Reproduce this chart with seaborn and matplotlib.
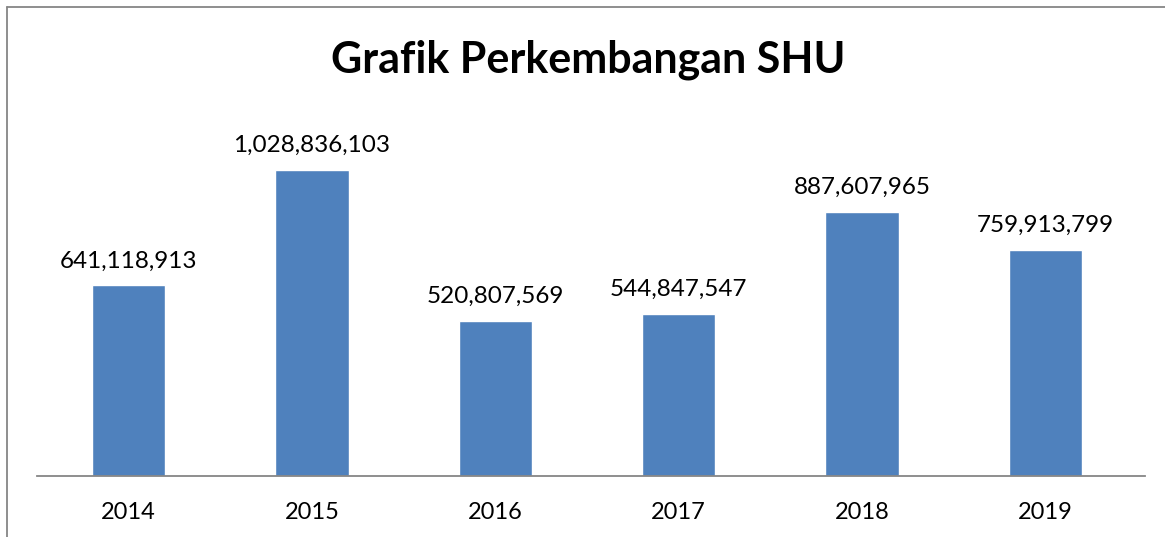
import pandas as pd
import seaborn as sns
import matplotlib.pyplot as plt
from matplotlib.lines import Line2D

years = ["2014", "2015", "2016", "2017", "2018", "2019"]
shu = [641118913, 1028836103, 520807569, 544847547, 887607965, 759913799]

df = pd.DataFrame({"Tahun": years, "SHU": shu})

sns.set_theme(style="white")
plt.rcParams['font.family'] = ['Lato', 'DejaVu Sans']

fig = plt.figure(figsize=(11.65, 5.37), dpi=100)
ax = fig.add_axes([0.0315, 0.1136, 0.951, 0.6644])

sns.barplot(data=df, x="Tahun", y="SHU", color="#4F81BD", saturation=1,
            width=0.4, ax=ax)

ax.bar_label(ax.containers[0], labels=[f"{v:,}" for v in shu],
             padding=10, fontsize=17.5, color="black")

ax.set_ylim(0, 1.2e9)
ax.set_xlim(-0.5, 5.54)
ax.set_yticks([])
ax.set_xlabel("")
ax.set_ylabel("")
for s in ["top", "right", "left"]:
    ax.spines[s].set_visible(False)
ax.spines["bottom"].set_color("#868686")
ax.spines["bottom"].set_linewidth(1.3)
ax.tick_params(axis="x", length=0, pad=19, labelsize=17, labelcolor="black")

fig.text(0.505, 1 - 60 / 537, "Grafik Perkembangan SHU", ha="center", va="center",
         fontsize=31, fontweight="bold", color="black")

# chart area border (top and left visible in the crop)
fig.add_artist(Line2D([7 / 1165, 7 / 1165], [0, 1 - 7 / 537], color="#868686", lw=1.3,
                      transform=fig.transFigure))
fig.add_artist(Line2D([7 / 1165, 1], [1 - 7 / 537, 1 - 7 / 537], color="#868686", lw=1.3,
                      transform=fig.transFigure))

plt.savefig("out.png", dpi=100, facecolor="white")
